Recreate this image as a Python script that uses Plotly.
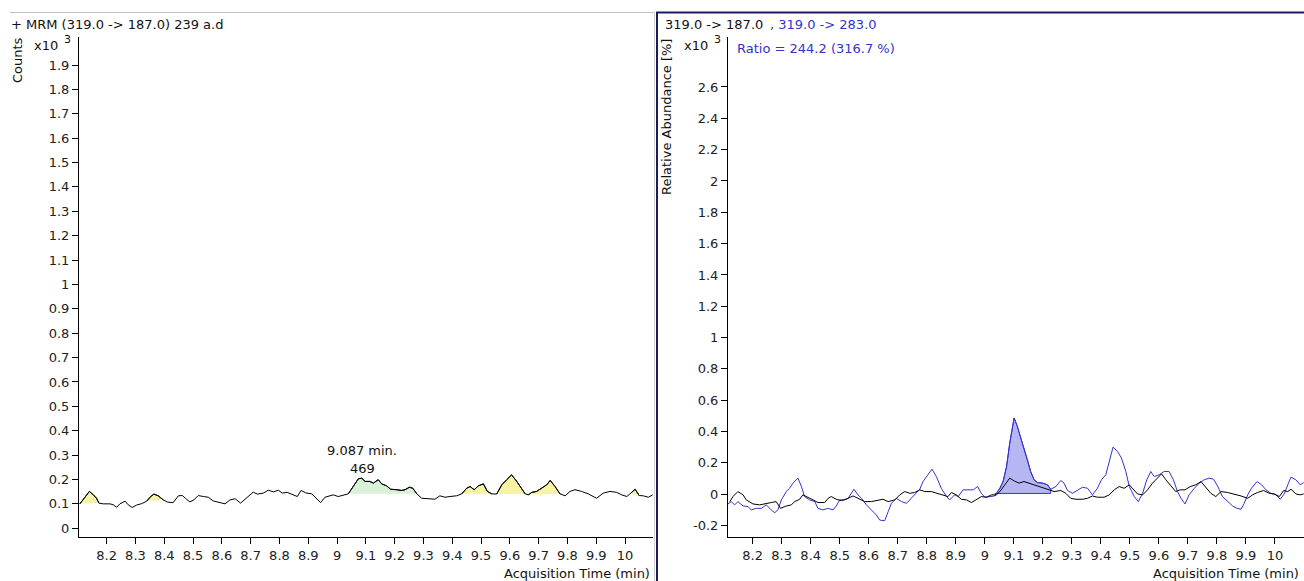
import plotly.graph_objects as go

W, H = 1304, 581
FONT = "DejaVu Sans"
BLUE = "#3333cc"

# ---- shared time axis ----
time_ticks = [8.2, 8.3, 8.4, 8.5, 8.6, 8.7, 8.8, 8.9, 9.0, 9.1, 9.2, 9.3, 9.4, 9.5, 9.6, 9.7, 9.8, 9.9, 10.0]
time_tick_text = ["8.2", "8.3", "8.4", "8.5", "8.6", "8.7", "8.8", "8.9", "9", "9.1", "9.2", "9.3",
                  "9.4", "9.5", "9.6", "9.7", "9.8", "9.9", "10"]

# ---- left panel: MRM (319.0 -> 187.0), counts x10^3 ----
mrm_time = [
    8.107, 8.125, 8.140, 8.154, 8.165, 8.173, 8.188, 8.212, 8.223, 8.235, 8.246, 8.264, 8.275, 8.289,
    8.304, 8.322, 8.339, 8.353, 8.364, 8.379, 8.397, 8.411, 8.431, 8.449, 8.463, 8.474, 8.489, 8.503,
    8.518, 8.536, 8.553, 8.570, 8.588, 8.611, 8.628, 8.646, 8.665, 8.677, 8.695, 8.709, 8.723, 8.744,
    8.761, 8.779, 8.796, 8.810, 8.827, 8.848, 8.862, 8.875, 8.891, 8.912, 8.929, 8.943,
    8.958, 8.987, 9.004, 9.022, 9.039, 9.056, 9.074, 9.086, 9.097, 9.114, 9.126, 9.143, 9.155, 9.172,
    9.186, 9.207, 9.224, 9.236, 9.251, 9.263, 9.277, 9.294, 9.317, 9.340, 9.357, 9.375, 9.392, 9.415,
    9.433, 9.450, 9.462, 9.476, 9.491, 9.508, 9.522, 9.537, 9.554, 9.572, 9.589, 9.606, 9.624, 9.635,
    9.653, 9.664, 9.676, 9.693, 9.711, 9.728, 9.740, 9.757, 9.774, 9.792, 9.809, 9.826, 9.849, 9.872,
    9.901, 9.924, 9.948, 9.971, 9.988, 10.006, 10.020, 10.035, 10.049, 10.063, 10.081, 10.096]
mrm_counts = [
    0.100, 0.127, 0.151, 0.137, 0.123, 0.103, 0.100, 0.100, 0.096, 0.086, 0.100, 0.111, 0.096, 0.085,
    0.095, 0.101, 0.111, 0.130, 0.140, 0.133, 0.116, 0.107, 0.105, 0.133, 0.134, 0.122, 0.108, 0.116,
    0.134, 0.130, 0.127, 0.112, 0.107, 0.100, 0.116, 0.121, 0.103, 0.116, 0.137, 0.148, 0.140, 0.144,
    0.156, 0.149, 0.156, 0.144, 0.147, 0.137, 0.130, 0.155, 0.145, 0.141, 0.122, 0.105,
    0.127, 0.137, 0.130, 0.137, 0.141, 0.171, 0.203, 0.205, 0.192, 0.192, 0.185, 0.199, 0.182, 0.174,
    0.160, 0.158, 0.155, 0.158, 0.168, 0.164, 0.141, 0.123, 0.121, 0.119, 0.133, 0.127, 0.130, 0.133,
    0.141, 0.164, 0.171, 0.158, 0.174, 0.182, 0.151, 0.141, 0.140, 0.178, 0.199, 0.219, 0.192, 0.174,
    0.141, 0.137, 0.147, 0.151, 0.164, 0.178, 0.196, 0.171, 0.141, 0.133, 0.151, 0.158, 0.151, 0.141,
    0.123, 0.144, 0.151, 0.147, 0.137, 0.130, 0.144, 0.160, 0.134, 0.133, 0.127, 0.137]

# integration windows (start, end) in minutes
noise_peaks = [(8.107, 8.173), (8.339, 8.397), (9.433, 9.537), (9.554, 9.653), (9.664, 9.774), (10.020, 10.049)]
main_peak = (9.039, 9.277)
main_peak_rt = 9.087
main_peak_text = ["9.087 min.", "469"]
left_yticks = [0.0, 0.1, 0.2, 0.3, 0.4, 0.5, 0.6, 0.7, 0.8, 0.9, 1.0, 1.1, 1.2, 1.3, 1.4, 1.5, 1.6, 1.7, 1.8, 1.9]
left_ytext = ["0", "0.1", "0.2", "0.3", "0.4", "0.5", "0.6", "0.7", "0.8", "0.9", "1", "1.1", "1.2",
              "1.3", "1.4", "1.5", "1.6", "1.7", "1.8", "1.9"]

# ---- right panel: qualifier overlay, relative abundance x10^3 ----
quant_time = [
    8.121, 8.132, 8.149, 8.167, 8.178, 8.201, 8.224, 8.247, 8.264, 8.281, 8.296, 8.316, 8.333, 8.345,
    8.362, 8.373, 8.391, 8.408, 8.425, 8.448, 8.460, 8.471, 8.488, 8.506, 8.529, 8.546, 8.563, 8.586,
    8.609, 8.632, 8.649, 8.667, 8.690, 8.707, 8.724, 8.741, 8.758, 8.776, 8.793, 8.816, 8.833, 8.856,
    8.873, 8.885, 8.902, 8.919, 8.937, 8.954, 8.971, 8.988, 9.006, 9.023, 9.040, 9.052, 9.069, 9.086,
    9.101, 9.118, 9.135, 9.153, 9.170, 9.187, 9.204, 9.222, 9.239, 9.262, 9.279, 9.296, 9.314, 9.337,
    9.354, 9.371, 9.388, 9.411, 9.429, 9.446, 9.463, 9.480, 9.498, 9.513, 9.526, 9.544, 9.561, 9.578,
    9.595, 9.609, 9.624, 9.641, 9.658, 9.673, 9.690, 9.708, 9.727, 9.745, 9.762, 9.779, 9.796, 9.814,
    9.837, 9.860, 9.883, 9.906, 9.923, 9.940, 9.961, 9.980, 9.998, 10.015, 10.030, 10.044, 10.055,
    10.072, 10.087, 10.099]
quant_abund = [
    -0.047, -0.015, 0.017, -0.004, -0.036, -0.062, -0.068, -0.062, -0.053, -0.047, -0.090, -0.075,
    -0.068, -0.047, -0.032, -0.004, -0.019, -0.036, -0.053, -0.053, -0.026, -0.015, -0.032, -0.041,
    -0.026, -0.011, -0.026, -0.047, -0.047, -0.036, -0.032, -0.047, -0.036, -0.004, 0.017, 0.006,
    0.011, 0.028, 0.017, 0.017, 0.006, -0.004, -0.015, 0.011, -0.004, -0.032, -0.036, -0.053, -0.036,
    -0.015, -0.019, -0.004, -0.004, 0.017, 0.060, 0.103, 0.085,
    0.071, 0.081, 0.071, 0.060, 0.049, 0.038, 0.028, 0.017, 0.024, 0.006, -0.026, -0.032, -0.032,
    -0.026, -0.011, -0.019, -0.019, -0.004, 0.028, 0.049, 0.038, 0.060, 0.032, 0.002, -0.004, 0.028,
    0.071, 0.103, 0.130, 0.092, 0.053, 0.017, 0.028, 0.028, 0.049, 0.060, 0.081, 0.045, 0.006, -0.015,
    0.017, 0.011, 0.002, -0.011, -0.026, -0.004, 0.011, 0.024, 0.006, 0.002, -0.015, 0.024, 0.017,
    0.032, 0.002, -0.004, 0.002]

qual_time = [
    8.115, 8.126, 8.138, 8.149, 8.167, 8.184, 8.195, 8.213, 8.230, 8.247, 8.264, 8.276, 8.287, 8.299,
    8.316, 8.327, 8.339, 8.356, 8.368, 8.379, 8.396, 8.414, 8.425, 8.442, 8.460, 8.477, 8.488, 8.500,
    8.517, 8.529, 8.549, 8.563, 8.575, 8.592, 8.609, 8.626, 8.638, 8.655, 8.667, 8.678, 8.695, 8.713,
    8.730, 8.747, 8.764, 8.776, 8.787, 8.804, 8.818, 8.833, 8.850, 8.868, 8.879, 8.896, 8.908, 8.925,
    8.942, 8.960, 8.975, 8.988, 9.000, 9.017, 9.034, 9.052, 9.063, 9.075, 9.086, 9.101,
    9.112, 9.124, 9.135, 9.147, 9.158, 9.170, 9.181, 9.199, 9.216, 9.227, 9.245, 9.262, 9.273, 9.285,
    9.302, 9.319, 9.337, 9.354, 9.371, 9.388, 9.402, 9.417, 9.429, 9.442, 9.457, 9.471, 9.486, 9.498,
    9.515, 9.529, 9.544, 9.558, 9.572, 9.584, 9.601, 9.618, 9.635, 9.650, 9.664, 9.676, 9.690, 9.704,
    9.722, 9.739, 9.756, 9.773, 9.788, 9.802, 9.819, 9.837, 9.854, 9.869, 9.883, 9.894, 9.906, 9.919,
    9.938, 9.954, 9.969, 9.986, 10.003, 10.018, 10.032, 10.044, 10.055, 10.072, 10.087, 10.099]
qual_abund = [
    -0.062, -0.047, -0.068, -0.047, -0.075, -0.079, -0.100, -0.090, -0.090, -0.068, -0.100, -0.118,
    -0.100, -0.036, 0.017, 0.038, 0.071, 0.103, 0.049, -0.015, -0.036, -0.047, -0.090, -0.100, -0.090,
    -0.100, -0.075, -0.036, -0.036, -0.026, 0.032, -0.004, -0.026, -0.068, -0.100, -0.132, -0.165,
    -0.169, -0.111, -0.058, -0.026, -0.047, -0.058, -0.026, 0.006, 0.032, 0.081, 0.124, 0.160, 0.113,
    0.038, -0.015, -0.036, -0.004, -0.015, 0.028, 0.028, 0.028, 0.049, 0.006, -0.019, -0.015, -0.011,
    0.038, 0.081, 0.177, 0.327, 0.487,
    0.434, 0.359, 0.295, 0.220, 0.145, 0.092, 0.075, 0.071, 0.060, 0.032, 0.049, 0.088, 0.071, 0.024,
    0.006, 0.024, 0.045, 0.038, -0.004, 0.038, 0.092, 0.124, 0.209, 0.301, 0.274, 0.231, 0.145, 0.049,
    -0.015, -0.047, 0.006, 0.092, 0.145, 0.113, 0.124, 0.145, 0.145, 0.092, 0.017, -0.026, -0.062,
    -0.004, 0.038, 0.071, 0.092, 0.103, 0.096, 0.053, -0.015, -0.047, -0.075, -0.090, -0.096, -0.058,
    -0.004, 0.038, 0.081, 0.060, 0.028, 0.006, -0.004, -0.032, 0.002, 0.060, 0.109, 0.092, 0.060, 0.075]

qual_window = (9.034, 9.227)
qual_baseline = 0.005
right_yticks = [-0.2, 0.0, 0.2, 0.4, 0.6, 0.8, 1.0, 1.2, 1.4, 1.6, 1.8, 2.0, 2.2, 2.4, 2.6]
right_ytext = ["-0.2", "0", "0.2", "0.4", "0.6", "0.8", "1", "1.2", "1.4", "1.6", "1.8", "2", "2.2", "2.4", "2.6"]


def window(ts, vs, lo, hi):
    pts = [(t, v) for t, v in zip(ts, vs) if lo <= t <= hi]
    return [p[0] for p in pts], [p[1] for p in pts]


fig = go.Figure()

# shaded peak areas (closed back to start gives the straight integration baseline)
for lo, hi in noise_peaks:
    xs, ys = window(mrm_time, mrm_counts, lo, hi)
    fig.add_trace(go.Scatter(x=xs, y=ys, fill="toself", fillcolor="#f7f3a6", mode="lines",
                             line=dict(color="black", width=1), xaxis="x", yaxis="y", hoverinfo="skip"))
xs, ys = window(mrm_time, mrm_counts, *main_peak)
fig.add_trace(go.Scatter(x=xs, y=ys, fill="toself", fillcolor="#d9f1d7", mode="lines",
                         line=dict(color="black", width=1), xaxis="x", yaxis="y", hoverinfo="skip"))
fig.add_trace(go.Scatter(x=mrm_time, y=mrm_counts, mode="lines", line=dict(color="black", width=1),
                         xaxis="x", yaxis="y"))

# qualifier area on the overlay
xs, ys = window(qual_time, qual_abund, *qual_window)
xs = xs + [xs[-1], xs[0]]
ys = ys + [qual_baseline, qual_baseline]
fig.add_trace(go.Scatter(x=xs, y=ys, fill="toself", fillcolor="rgba(110,110,235,0.5)", mode="lines",
                         line=dict(color=BLUE, width=1), xaxis="x2", yaxis="y2", hoverinfo="skip"))
fig.add_trace(go.Scatter(x=qual_time, y=qual_abund, mode="lines", line=dict(color=BLUE, width=1),
                         xaxis="x2", yaxis="y2"))
fig.add_trace(go.Scatter(x=quant_time, y=quant_abund, mode="lines", line=dict(color="black", width=1),
                         xaxis="x2", yaxis="y2"))

axis_common = dict(showgrid=False, zeroline=False, showline=True, linecolor="black", linewidth=1,
                   ticks="outside", ticklen=6, tickwidth=1, tickcolor="black",
                   tickfont=dict(family=FONT, size=13, color="#222"), fixedrange=True)

ydom = [44 / H, 544 / H]
fig.update_layout(
    width=W, height=H, margin=dict(l=0, r=0, t=0, b=0),
    paper_bgcolor="white", plot_bgcolor="white", showlegend=False,
    font=dict(family=FONT, size=13, color="#111"),
    xaxis=dict(domain=[79 / W, 653 / W], range=[8.104, 10.097], tickmode="array",
               tickvals=time_ticks, ticktext=time_tick_text, anchor="y", **axis_common),
    yaxis=dict(domain=ydom, range=[-0.036, 2.015], tickmode="array",
               tickvals=left_yticks, ticktext=left_ytext, anchor="x", **axis_common),
    xaxis2=dict(domain=[728 / W, 1.0], range=[8.115, 10.1], tickmode="array",
                tickvals=time_ticks, ticktext=time_tick_text, anchor="y2", **axis_common),
    yaxis2=dict(domain=ydom, range=[-0.273, 2.919], tickmode="array",
                tickvals=right_yticks, ticktext=right_ytext, anchor="x2", **axis_common),
)


def px(x):
    return x / W


def py(y):
    return 1 - y / H


def label(text, x, y, xanchor="left", color="#111", angle=0, size=13):
    fig.add_annotation(text=text, x=px(x), y=py(y), xref="paper", yref="paper", xanchor=xanchor,
                       yanchor="middle", showarrow=False, textangle=angle,
                       font=dict(family=FONT, size=size, color=color))


# panel headers
label("+ MRM (319.0 -> 187.0) 239 a.d", 9, 24)
label("319.0 -> 187.0", 663, 24)
label(", 319.0 -> 283.0", 768, 24, color=BLUE)
label("Ratio = 244.2 (316.7 %)", 735, 49, color=BLUE)

# axis captions with the x10^3 scale marker
label("Counts", 18, 60, xanchor="center", angle=-90)
label("x10", 32, 45)
label("3", 62, 40, size=11)
label("Relative Abundance [%]", 667, 117, xanchor="center", angle=-90)
label("x10", 682, 45)
label("3", 712, 40, size=11)
label("Acquisition Time (min)", 652, 573, xanchor="right")
label("Acquisition Time (min)", 1301, 573, xanchor="right")

# retention time / area label of the main peak
fig.add_annotation(text=main_peak_text[0], x=main_peak_rt, y=0.317, xref="x", yref="y",
                   showarrow=False, yanchor="middle", font=dict(family=FONT, size=13, color="#111"))
fig.add_annotation(text=main_peak_text[1], x=main_peak_rt, y=0.247, xref="x", yref="y",
                   showarrow=False, yanchor="middle", font=dict(family=FONT, size=13, color="#111"))

# panel frames
fig.add_shape(type="line", xref="paper", yref="paper", x0=px(10), x1=px(655), y0=py(12.5), y1=py(12.5),
              line=dict(color="#c0c0c0", width=1))
fig.add_shape(type="line", xref="paper", yref="paper", x0=px(654.5), x1=px(654.5), y0=py(12), y1=0,
              line=dict(color="#d0d0d0", width=1))
fig.add_shape(type="line", xref="paper", yref="paper", x0=px(656), x1=1, y0=py(12.5), y1=py(12.5),
              line=dict(color="#1c1c5a", width=2))
fig.add_shape(type="line", xref="paper", yref="paper", x0=px(657), x1=px(657), y0=py(12), y1=0,
              line=dict(color="#1c1c5a", width=2))

fig.write_html("out.html")
